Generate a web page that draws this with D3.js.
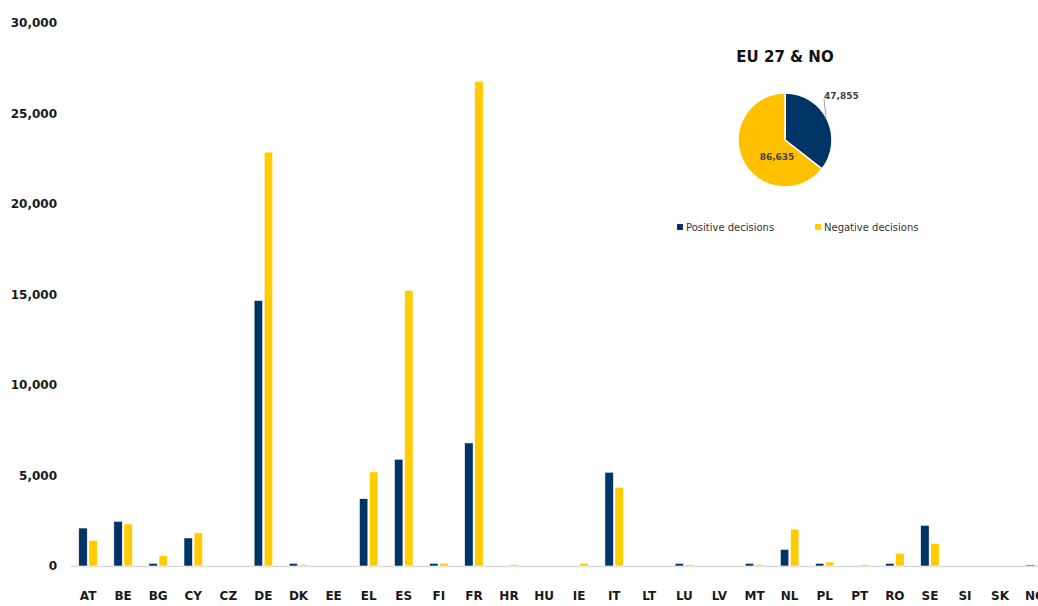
<!DOCTYPE html>
<html lang="en">
    <head>
        <meta charset="utf-8">
        <title>Decisions by country</title>
        <script src="https://cdnjs.cloudflare.com/ajax/libs/d3/7.8.5/d3.min.js"></script>
        <style>
        body{
            margin:0;
            background-color:white;
        }
        svg{
            display:block;
        }
        </style>
    </head>
    <body>
        <script type="text/javascript">

        // chart values
        var countries = ["AT","BE","BG","CY","CZ","DE","DK","EE","EL","ES","FI","FR","HR","HU",
                         "IE","IT","LT","LU","LV","MT","NL","PL","PT","RO","SE","SI","SK","NO"];
        var positive = [2100,2470,150,1550,0,14670,150,0,3720,5900,150,6800,0,0,
                        0,5180,0,150,0,150,920,150,0,150,2250,0,0,60];
        var negative = [1420,2320,570,1830,0,22870,90,0,5200,15220,150,26780,90,0,
                        150,4350,0,90,0,90,2030,220,90,700,1250,0,0,60];
        var yTicks = [0,5000,10000,15000,20000,25000,30000];

        var pieLabels = ["Positive decisions","Negative decisions"];
        var pieValues = [47855,86635];
        var pieTitle = "EU 27 & NO";

        var w = 1038;
        var h = 606;
        var navy = "#003366";
        var yellow = "#ffcc00";

        var svg = d3.select("body")
                    .append("svg")
                    .attr("width", w)
                    .attr("height", h);

        //scales
        var x = d3.scaleBand()
                  .domain(countries)
                  .range([70.5, 1052.7]);

        var y = d3.scaleLinear()
                  .domain([0,30000])
                  .range([566, 23]);

        //y axis labels only, no line
        var yAxis = d3.axisLeft(y)
                      .tickValues(yTicks)
                      .tickFormat(d3.format(","))
                      .tickSize(0)
                      .tickPadding(0);

        var gy = svg.append("g")
                    .attr("transform","translate(57,0)")
                    .call(yAxis);
        gy.select(".domain").remove();
        gy.selectAll("text")
          .attr("font-family","DejaVu Sans")
          .attr("font-weight","bold")
          .attr("font-size",12)
          .attr("fill","#1a1a1a");

        //x axis (the last label runs off the right edge, as in the original)
        var xAxis = d3.axisBottom(x).tickSize(0).tickPadding(0);
        var gx = svg.append("g")
                    .attr("transform","translate(0,566)")
                    .call(xAxis);
        gx.select(".domain")
          .attr("stroke","#d9d9d9")
          .attr("stroke-width",1.5);
        gx.selectAll("text")
          .attr("y",30)
          .attr("dy","0.32em")
          .attr("font-family","DejaVu Sans")
          .attr("font-weight","bold")
          .attr("font-size",12)
          .attr("fill","#1a1a1a");

        //bars
        var barW = 8.5;
        var groups = svg.append("g").selectAll("g")
                        .data(countries)
                        .enter()
                        .append("g");

        groups.append("rect")
              .attr("x", function(d){ return x(d) + x.bandwidth()/2 - barW - 0.8; })
              .attr("y", function(d,i){ return y(positive[i]); })
              .attr("width", barW)
              .attr("height", function(d,i){ return y(0) - y(positive[i]); })
              .attr("fill", navy)
              .attr("stroke","white")
              .attr("stroke-width",0.6);

        groups.append("rect")
              .attr("x", function(d){ return x(d) + x.bandwidth()/2 + 0.8; })
              .attr("y", function(d,i){ return y(negative[i]); })
              .attr("width", barW)
              .attr("height", function(d,i){ return y(0) - y(negative[i]); })
              .attr("fill", yellow)
              .attr("stroke","white")
              .attr("stroke-width",0.6);

        //pie
        var pieG = svg.append("g")
                      .attr("transform","translate(785,140)");

        svg.append("text")
           .attr("x",785)
           .attr("y",62)
           .attr("text-anchor","middle")
           .attr("font-family","DejaVu Sans")
           .attr("font-weight","bold")
           .attr("font-size",15)
           .attr("fill","#111")
           .text(pieTitle);

        var pie = d3.pie().sort(null);
        var arc = d3.arc().innerRadius(0).outerRadius(47);
        var pieColors = [navy,"#ffc000"];
        var slices = pie(pieValues);

        pieG.selectAll("path")
            .data(slices)
            .enter()
            .append("path")
            .attr("d", arc)
            .attr("fill", function(d,i){ return pieColors[i]; })
            .attr("stroke","white")
            .attr("stroke-width",1.5);

        // leader line for the small slice
        pieG.append("line")
            .attr("x1",41).attr("y1",-22)
            .attr("x2",39).attr("y2",-41)
            .attr("stroke","#a6a6a6")
            .attr("stroke-width",1);

        pieG.append("text")
            .attr("x",39)
            .attr("y",-41)
            .attr("font-family","DejaVu Sans")
            .attr("font-weight","bold")
            .attr("font-size",9)
            .attr("fill","#404040")
            .text(d3.format(",")(pieValues[0]));

        pieG.append("text")
            .attr("x",-8)
            .attr("y",20)
            .attr("text-anchor","middle")
            .attr("font-family","DejaVu Sans")
            .attr("font-weight","bold")
            .attr("font-size",9)
            .attr("fill","#404040")
            .text(d3.format(",")(pieValues[1]));

        //legend
        var legendX = [677, 815];
        var legend = svg.append("g").selectAll("g")
                        .data(pieLabels)
                        .enter()
                        .append("g")
                        .attr("transform", function(d,i){ return "translate(" + legendX[i] + ",227)"; });

        legend.append("rect")
              .attr("x",0).attr("y",-3)
              .attr("width",6).attr("height",6)
              .attr("fill", function(d,i){ return i == 0 ? navy : yellow; });

        legend.append("text")
              .attr("x",9)
              .attr("dy","0.35em")
              .attr("font-family","DejaVu Sans")
              .attr("font-size",10)
              .attr("fill","#333")
              .text(function(d){ return d; });

        </script>
    </body>
</html>
